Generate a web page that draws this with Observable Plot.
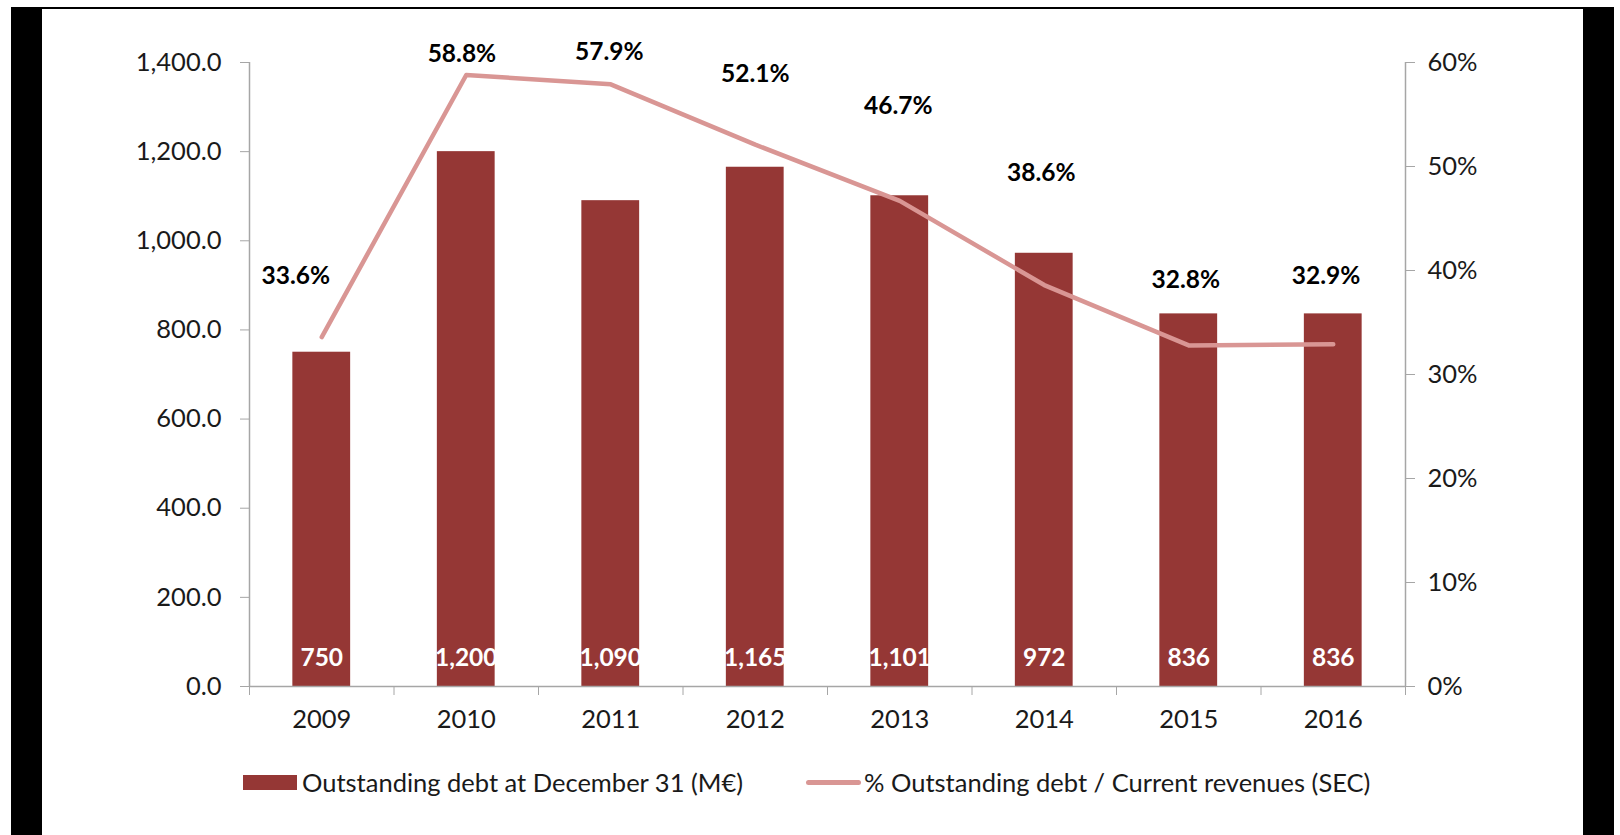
<!DOCTYPE html>
<html>
<head>
<meta charset="utf-8">
<script src="https://cdn.jsdelivr.net/npm/d3@7"></script>
<script src="https://cdn.jsdelivr.net/npm/@observablehq/plot@0.6"></script>
<style>
  html, body { margin: 0; padding: 0; background: #fff; }
  #wrap { position: relative; width: 1620px; height: 835px; overflow: hidden; font-family: Lato, "Open Sans", sans-serif; }
  #chart svg { display: block; }
  .band { position: absolute; background: #000; }
  #legend { position: absolute; left: 0; top: 760px; width: 1620px; height: 44px; font-size: 25.5px; color: #1a1a1a; }
  #legend .item { position: absolute; top: 0; height: 44px; display: flex; align-items: center; white-space: nowrap; }
  #legend .sw-bar { width: 54px; height: 15px; background: #953735; margin-right: 5px; }
  #legend .sw-line { width: 55px; height: 5px; background: #D99694; border-radius: 3px; margin-right: 3px; }
</style>
</head>
<body>
<div id="wrap">
  <div id="chart"></div>
  <div id="legend"></div>
  <div class="band" style="left:11px; top:7px; width:1603px; height:1.5px;"></div>
  <div class="band" style="left:11px; top:7px; width:31px; height:828px;"></div>
  <div class="band" style="left:1583px; top:7px; width:31px; height:828px;"></div>
</div>
<script>
// ---- data ----
const years = [2009, 2010, 2011, 2012, 2013, 2014, 2015, 2016];
const debt = [750, 1200, 1090, 1165, 1101, 972, 836, 836];
const pct = [33.6, 58.8, 57.9, 52.1, 46.7, 38.6, 32.8, 32.9];
// where each % label sits (label anchors, in the chart's own units)
const pctLabelAt = [39.5, 60.8, 61.0, 58.9, 55.8, 49.4, 39.1, 39.5];
const pctLabelYear = [2008.82, 2009.97, 2010.99, 2012, 2012.99, 2013.98, 2014.98, 2015.95];
const yTicks = [0, 200, 400, 600, 800, 1000, 1200, 1400];
const pctTicks = [0, 10, 20, 30, 40, 50, 60];
const seriesNames = ["Outstanding debt at December 31 (M\u20AC)", "% Outstanding debt / Current revenues (SEC)"];

const yMax = 1400, pMax = 60;
const k = yMax / pMax; // maps % onto the left axis scale

const rows = years.map((year, i) => ({
  year, debt: debt[i], pct: pct[i], labAt: pctLabelAt[i], labYear: pctLabelYear[i]
}));

const barColor = "#953735";
const lineColor = "#D99694";
const axisColor = "#A6A6A6";
const textColor = "#1a1a1a";
const fontFamily = "Lato, 'Open Sans', sans-serif";

const boundaries = years.map(y => y - 0.5).concat([years[years.length - 1] + 0.5]);

const plot = Plot.plot({
  width: 1620,
  height: 760,
  marginLeft: 249,
  marginRight: 215,
  marginTop: 62,
  marginBottom: 74,
  style: { fontFamily, background: "transparent", overflow: "visible" },
  x: { type: "linear", domain: [boundaries[0], boundaries[boundaries.length - 1]] },
  y: { domain: [0, yMax] },
  marks: [
    Plot.rectY(rows, { x1: d => d.year - 0.2, x2: d => d.year + 0.2, y: "debt", fill: barColor }),
    Plot.ruleY([0], { stroke: axisColor, strokeWidth: 1.5 }),
    Plot.ruleX([boundaries[0]], { stroke: axisColor, strokeWidth: 1.5 }),
    Plot.ruleX([boundaries[boundaries.length - 1]], { stroke: axisColor, strokeWidth: 1.5 }),
    Plot.axisY({ anchor: "left", ticks: yTicks, tickFormat: d3.format(",.1f"), tickSize: 9, tickPadding: 19,
      stroke: axisColor, fill: textColor, fontSize: 25.5, label: null }),
    Plot.axisY({ anchor: "right", ticks: pctTicks.map(p => p * k), tickFormat: v => Math.round(v / k) + "%",
      tickSize: 9, tickPadding: 13, stroke: axisColor, fill: textColor, fontSize: 25.5, label: null }),
    Plot.axisX({ ticks: boundaries, tickFormat: () => "", tickSize: 9, stroke: axisColor, label: null }),
    Plot.axisX({ ticks: years, tickFormat: d => String(d), tickSize: 0, tickPadding: 23,
      fill: textColor, fontSize: 25.5, label: null }),
    Plot.text(rows, { x: "year", y: 0, text: d => d3.format(",")(d.debt), fill: "white",
      fontWeight: "bold", fontSize: 24.5, dy: -28, lineAnchor: "middle" }),
    Plot.line(rows, { x: "year", y: d => d.pct * k, stroke: lineColor, strokeWidth: 4.5,
      curve: "linear", strokeLinecap: "round", strokeLinejoin: "round" }),
    Plot.text(rows, { x: "labYear", y: d => d.labAt * k, text: d => d.pct.toFixed(1) + "%",
      fill: "#000", fontWeight: "bold", fontSize: 24.5, lineAnchor: "middle" })
  ]
});
document.getElementById("chart").appendChild(plot);

const legend = document.getElementById("legend");
legend.innerHTML =
  `<div class="item" style="left:243px"><div class="sw-bar"></div><span>${seriesNames[0]}</span></div>` +
  `<div class="item" style="left:806px"><div class="sw-line"></div><span>${seriesNames[1]}</span></div>`;
</script>
</body>
</html>
